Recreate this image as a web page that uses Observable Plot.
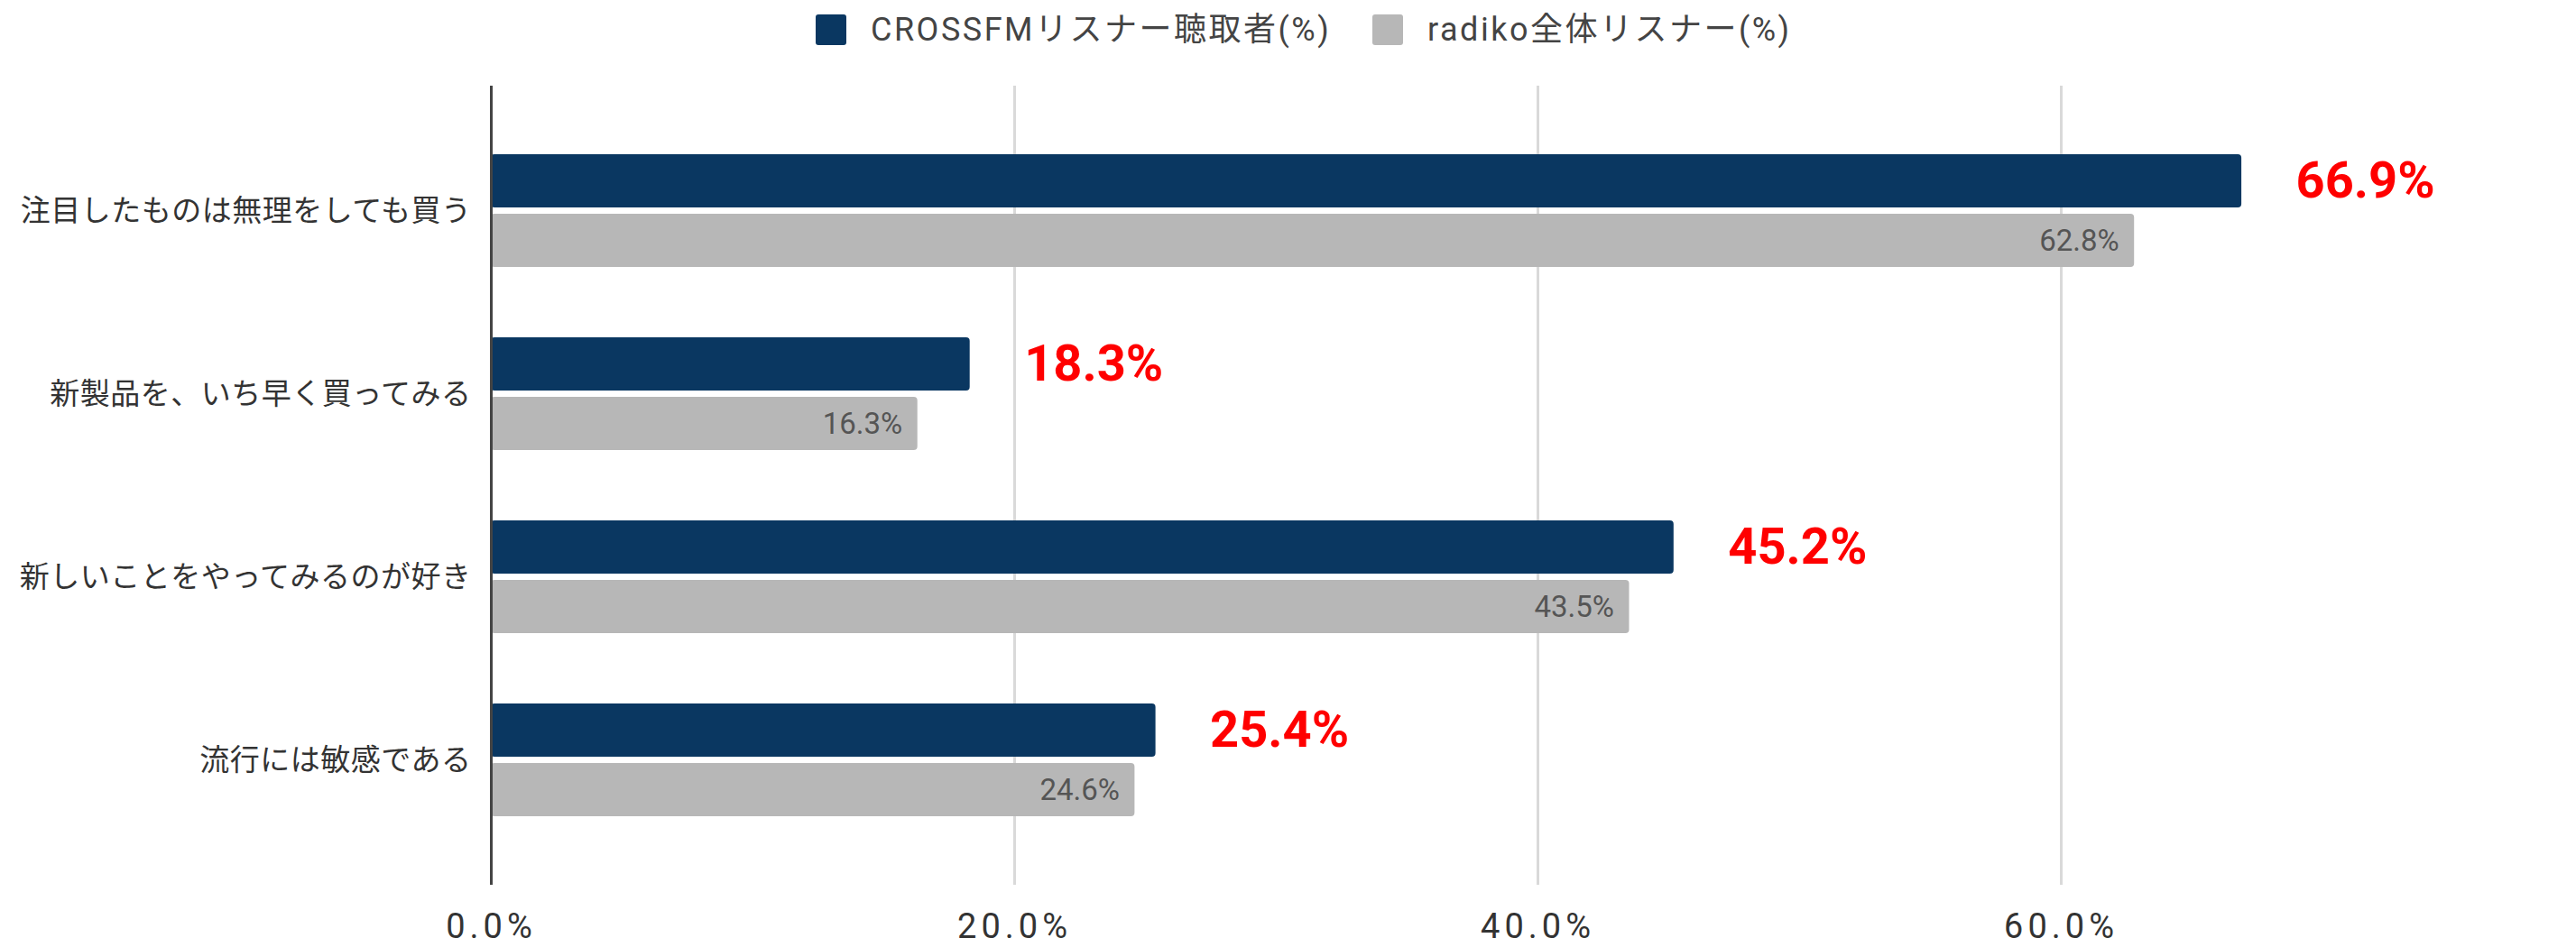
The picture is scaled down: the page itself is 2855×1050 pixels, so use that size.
<!DOCTYPE html>
<html>
<head>
<meta charset="utf-8">
<script src="https://cdn.jsdelivr.net/npm/d3@7"></script>
<script src="https://cdn.jsdelivr.net/npm/@observablehq/plot@0.6"></script>
<style>
  html, body { margin: 0; padding: 0; background: #fff; }
  body { width: 2855px; height: 1050px; overflow: hidden; font-family: Roboto, "Noto Sans CJK JP", sans-serif; }
  #legend { position: relative; height: 66px; }
  .item { position: absolute; top: 16px; display: flex; align-items: center; }
  .sw { width: 34px; height: 34px; border-radius: 3px; margin-right: 27px; }
  .lab { font-size: 36px; color: #444; letter-spacing: 2.5px; line-height: 34px; }
  g[aria-label="x-axis tick label"] { letter-spacing: 5px; }
  g[aria-label="y-axis tick label"] { letter-spacing: 0.5px; }
</style>
</head>
<body>
<div id="legend"></div>
<div id="chart"></div>
<script>
const categories = ["注目したものは無理をしても買う", "新製品を、いち早く買ってみる", "新しいことをやってみるのが好き", "流行には敏感である"];
const seriesNames = ["CROSSFMリスナー聴取者(%)", "radiko全体リスナー(%)"];
const crossfmValues = [66.9, 18.3, 45.2, 25.4];
const radikoValues = [62.8, 16.3, 43.5, 24.6];
const xTicks = [0, 20, 40, 60];
const colors = ["#0a3761", "#b7b7b7"];

const crossData = categories.map((c, i) => ({category: c, value: crossfmValues[i]}));
const radikoData = categories.map((c, i) => ({category: c, value: radikoValues[i]}));

// legend
const legend = document.getElementById("legend");
const legendX = [904, 1521];
seriesNames.forEach((name, i) => {
  const it = document.createElement("div");
  it.className = "item";
  it.style.left = legendX[i] + "px";
  it.innerHTML = `<div class="sw" style="background:${colors[i]}"></div><div class="lab">${name}</div>`;
  legend.appendChild(it);
});

const chart = Plot.plot({
  width: 2855,
  height: 984,
  marginTop: 29,
  marginBottom: 69,
  marginLeft: 544,
  marginRight: 136,
  style: {fontFamily: "Roboto, 'Noto Sans CJK JP', sans-serif", color: "#333", background: "#fff"},
  x: {domain: [0, 75]},
  y: {domain: categories, padding: 0, insetTop: 37, insetBottom: 37},
  marks: [
    Plot.gridX(xTicks.slice(1), {stroke: "#d9d9d9", strokeWidth: 3, strokeOpacity: 1}),
    Plot.barX(crossData, {x: "value", y: "category", fill: colors[0], insetTop: 39, insetBottom: 105, rx: 4}),
    Plot.barX(radikoData, {x: "value", y: "category", fill: colors[1], insetTop: 105, insetBottom: 39, rx: 4}),
    Plot.ruleX([0], {stroke: "#444", strokeWidth: 3}),
    Plot.text(crossData, {x: "value", y: "category", text: d => d.value.toFixed(1) + "%", dx: 60, dy: -33, textAnchor: "start", fill: "#ff0000", fontWeight: "bold", fontSize: 56}),
    Plot.text(radikoData, {x: "value", y: "category", text: d => d.value.toFixed(1) + "%", dx: -17, dy: 33, textAnchor: "end", fill: "#555", fontSize: 33}),
    Plot.axisX({ticks: xTicks, tickFormat: d => d.toFixed(1) + "%", tickSize: 0, tickPadding: 32, fontSize: 38, label: null}),
    Plot.axisY({tickSize: 0, tickPadding: 22, fontSize: 33, label: null})
  ]
});
document.getElementById("chart").appendChild(chart);
</script>
</body>
</html>
